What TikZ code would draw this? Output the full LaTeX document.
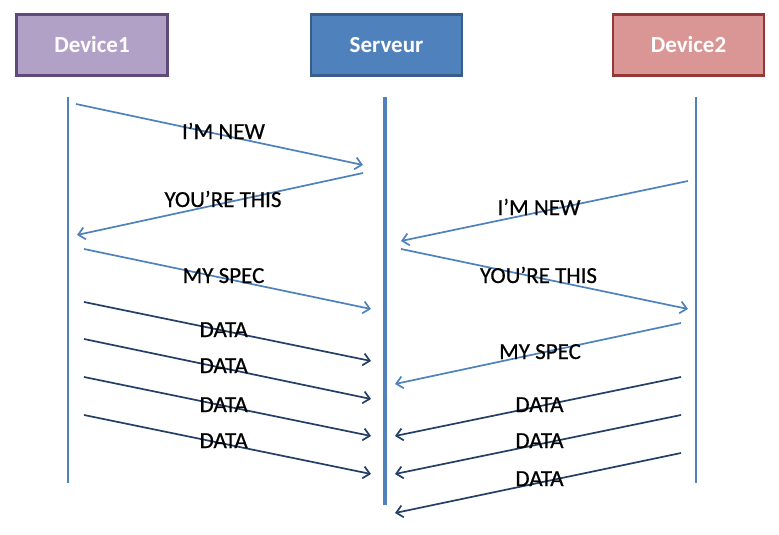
\documentclass[tikz,border=0pt]{standalone}
\usepackage{fontspec}
\setmainfont{Carlito}
\newfontfamily\lblfont{Carlito}[FakeBold=0.5]
\usetikzlibrary{arrows.meta}
\definecolor{lblue}{HTML}{4F81BD}
\definecolor{dblue}{HTML}{243F66}
\definecolor{purfill}{HTML}{B2A1C7}
\definecolor{purline}{HTML}{5F497A}
\definecolor{bluline}{HTML}{385D8A}
\definecolor{redfill}{HTML}{D99694}
\definecolor{redline}{HTML}{953735}
\begin{document}
\begin{tikzpicture}[x=1pt,y=-1pt,
  actor/.style={draw,line width=2.6pt,minimum width=151pt,minimum height=61pt,inner sep=0pt,
    text=white,font=\fontsize{23}{27}\selectfont\bfseries},
  life/.style={draw=lblue,line width=1.1pt},
  msg/.style={line width=1.7pt,-{Straight Barb[length=6.5pt,width=12pt]}},
  lmsg/.style={msg,draw=lblue},
  dmsg/.style={msg,draw=dblue},
  lbl/.style={anchor=base,inner sep=0pt,font=\lblfont\fontsize{23}{27}\selectfont}]
\useasboundingbox (0,0) rectangle (779,535);

% actors
\node[actor,fill=purfill,draw=purline] (dev1) at (92,45) {Device1};
\node[actor,fill=lblue,draw=bluline] (srv) at (386.5,45) {Serveur};
\node[actor,fill=redfill,draw=redline] (dev2) at (688.5,45) {Device2};

% lifelines
\coordinate (l1t) at (68,97);  \coordinate (l1b) at (68,483);
\coordinate (lst) at (385,97); \coordinate (lsb) at (385,505);
\coordinate (l2t) at (696,97); \coordinate (l2b) at (696,483);
\draw[life] (l1t) -- (l1b);
\draw[draw=lblue,line width=4pt] (lst) -- (lsb);
\draw[life] (l2t) -- (l2b);

% left side messages
\coordinate (a1s) at (76,104);  \coordinate (a1e) at (363,165);
\coordinate (a2s) at (363,173); \coordinate (a2e) at (77,235);
\coordinate (a3s) at (84,249);  \coordinate (a3e) at (371,309);
\coordinate (a4s) at (84,302);  \coordinate (a4e) at (371,361);
\coordinate (a5s) at (84,339);  \coordinate (a5e) at (371,399);
\coordinate (a6s) at (84,377);  \coordinate (a6e) at (371,436);
\coordinate (a7s) at (84,415);  \coordinate (a7e) at (371,474);
\draw[lmsg] (a1s) -- (a1e);
\draw[lmsg] (a2s) -- (a2e);
\draw[lmsg] (a3s) -- (a3e);
\draw[dmsg] (a4s) -- (a4e);
\draw[dmsg] (a5s) -- (a5e);
\draw[dmsg] (a6s) -- (a6e);
\draw[dmsg] (a7s) -- (a7e);
\node[lbl] (t1) at (223.5,139) {I’M NEW};
\node[lbl] (t2) at (223,207) {YOU’RE THIS};
\node[lbl] (t3) at (223.5,283) {MY SPEC};
\node[lbl] (t4) at (223.7,337) {DATA};
\node[lbl] (t5) at (223.7,373) {DATA};
\node[lbl] (t6) at (223.7,412) {DATA};
\node[lbl] (t7) at (223.7,448) {DATA};

% right side messages
\coordinate (b1s) at (688,181); \coordinate (b1e) at (401,241);
\coordinate (b2s) at (401,249); \coordinate (b2e) at (688,309);
\coordinate (b3s) at (681,323); \coordinate (b3e) at (395,384);
\coordinate (b4s) at (681,377); \coordinate (b4e) at (395,436);
\coordinate (b5s) at (681,415); \coordinate (b5e) at (395,474);
\coordinate (b6s) at (681,453); \coordinate (b6e) at (395,513);
\draw[lmsg] (b1s) -- (b1e);
\draw[lmsg] (b2s) -- (b2e);
\draw[lmsg] (b3s) -- (b3e);
\draw[dmsg] (b4s) -- (b4e);
\draw[dmsg] (b5s) -- (b5e);
\draw[dmsg] (b6s) -- (b6e);
\node[lbl] (u1) at (539,215) {I’M NEW};
\node[lbl] (u2) at (538.5,283) {YOU’RE THIS};
\node[lbl] (u3) at (540,359) {MY SPEC};
\node[lbl] (u4) at (539.5,412) {DATA};
\node[lbl] (u5) at (539.5,448) {DATA};
\node[lbl] (u6) at (539.5,486) {DATA};
\end{tikzpicture}
\end{document}
